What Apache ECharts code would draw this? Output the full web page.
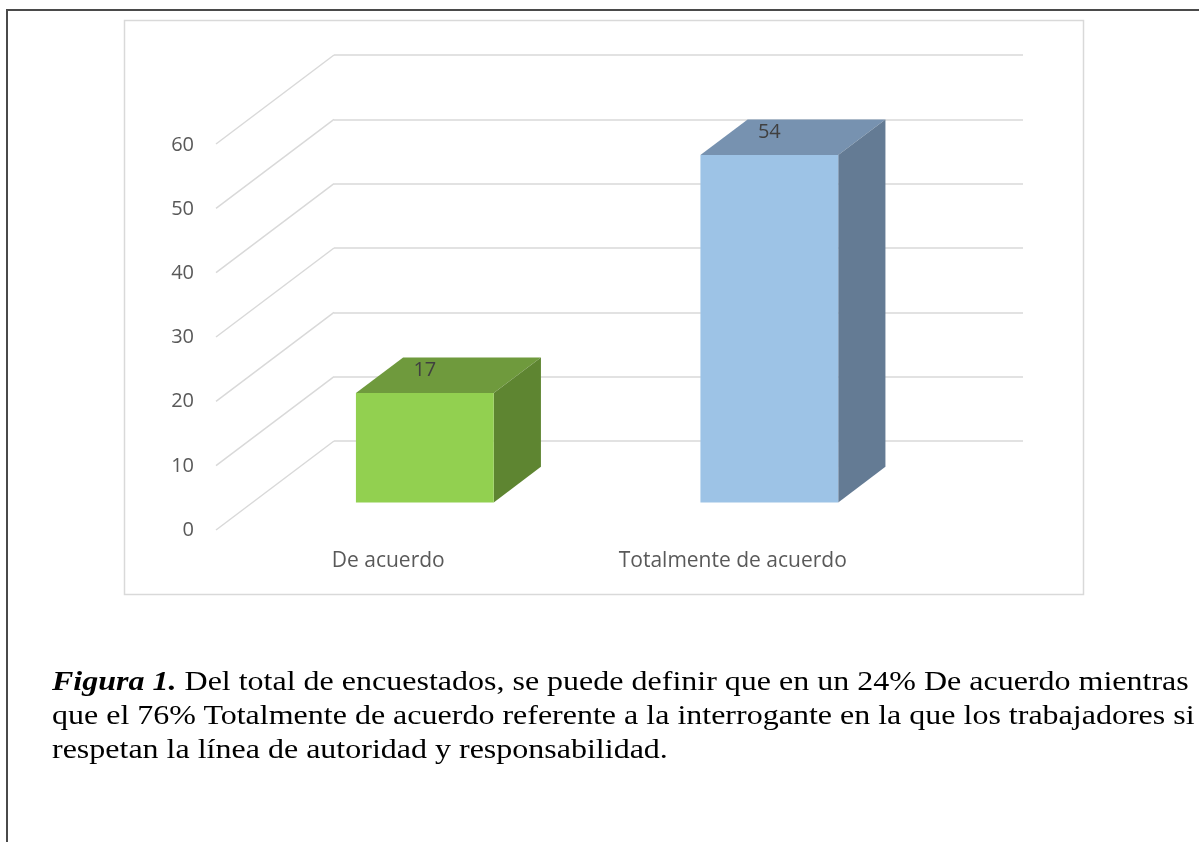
<!DOCTYPE html>
<html>
<head>
<meta charset="utf-8">
<script src="https://cdn.jsdelivr.net/npm/echarts@6/dist/echarts.min.js"></script>
<style>
  html, body { margin: 0; padding: 0; background: #fff; }
  #chart { position: absolute; left: 0; top: 0; width: 1199px; height: 842px; }
  .caption {
    position: absolute; left: 52px; top: 664px; width: 1000px;
    font-family: "Liberation Serif", "Times New Roman", serif;
    font-size: 28px; line-height: 34px; color: #000; white-space: nowrap;
    transform: scaleX(1.143); transform-origin: 0 0;
  }
  .caption b { font-style: italic; }
</style>
</head>
<body>
<div id="chart"></div>
<div class="caption">
  <b>Figura 1.</b> Del total de encuestados, se puede definir que en un 24% De acuerdo mientras<br>
  que el 76% Totalmente de acuerdo referente a la interrogante en la que los trabajadores si<br>
  respetan la línea de autoridad y responsabilidad.
</div>
<script>
const categories = ['De acuerdo', 'Totalmente de acuerdo']
const values = [17, 54]
const yTicks = [0, 10, 20, 30, 40, 50, 60]

// caras de cada barra: frente, tapa, lateral
const faceColors = [
  ['#92d050', '#6f9a3d', '#5e8531'],
  ['#9dc3e6', '#7792b0', '#647b94'],
]

// vector de profundidad (fondo -> frente del piso), en px
const DEPTH = [-118, 89]
const FRONT = 0.69   // plano frontal de la barra
const BACK = 0.29    // plano trasero de la barra

const chart = echarts.init(document.getElementById('chart'))

chart.setOption({
  animation: false,
  textStyle: { fontFamily: 'Open Sans' },
  grid: [
    // pared del fondo
    { left: 334, top: 55, width: 689, height: 386 },
    // borde frontal del piso (solo para las etiquetas)
    { left: 216, top: 145, width: 689, height: 385 },
  ],
  xAxis: [
    {
      gridIndex: 0, type: 'category', data: categories,
      axisLine: { show: false }, axisTick: { show: false }, axisLabel: { show: false },
    },
    {
      gridIndex: 1, type: 'category', data: categories,
      axisLine: { show: false }, axisTick: { show: false },
      axisLabel: { color: '#595959', fontSize: 21, margin: 21 },
    },
  ],
  yAxis: [
    {
      gridIndex: 0, type: 'value', min: 0, max: 60, interval: 10,
      axisLine: { show: false }, axisTick: { show: false }, axisLabel: { show: false },
      splitLine: { lineStyle: { color: '#d9d9d9', width: 1.5 } },
    },
    {
      gridIndex: 1, type: 'value', min: 0, max: 60, interval: 10,
      axisLine: { show: false }, axisTick: { show: false }, splitLine: { show: false },
      axisLabel: { color: '#595959', fontSize: 20, margin: 22, padding: [4, 0, 0, 0] },
    },
  ],
  series: [
    // líneas inclinadas de la pared lateral
    {
      type: 'custom',
      xAxisIndex: 0, yAxisIndex: 0,
      data: yTicks.map((t) => [0, t]),
      z: 1,
      silent: true,
      renderItem: (params, api) => {
        const x0 = params.coordSys.x
        const y = api.coord([0, api.value(1)])[1]
        return {
          type: 'line',
          shape: { x1: x0 + DEPTH[0], y1: y + DEPTH[1], x2: x0, y2: y },
          style: { stroke: '#d9d9d9', lineWidth: 1.5 },
        }
      },
    },
    // barras 3D
    {
      type: 'custom',
      xAxisIndex: 0, yAxisIndex: 0,
      data: values.map((v, i) => [i, v]),
      z: 5,
      renderItem: (params, api) => {
        const i = api.value(0)
        const top = api.coord([i, api.value(1)])
        const base = api.coord([i, 0])
        const band = api.size([1, 0])[0]
        const w = band * 0.4
        const fx = top[0] + DEPTH[0] * FRONT - w / 2
        const fyTop = top[1] + DEPTH[1] * FRONT
        const fyBot = base[1] + DEPTH[1] * FRONT
        const dx = -DEPTH[0] * (FRONT - BACK)
        const dy = -DEPTH[1] * (FRONT - BACK)
        const c = faceColors[params.dataIndex]
        return {
          type: 'group',
          children: [
            {
              type: 'polygon',
              shape: { points: [[fx, fyTop], [fx + w, fyTop], [fx + w + dx, fyTop + dy], [fx + dx, fyTop + dy]] },
              style: { fill: c[1] },
            },
            {
              type: 'polygon',
              shape: { points: [[fx + w, fyTop], [fx + w + dx, fyTop + dy], [fx + w + dx, fyBot + dy], [fx + w, fyBot]] },
              style: { fill: c[2] },
            },
            {
              type: 'rect',
              shape: { x: fx, y: fyTop, width: w, height: fyBot - fyTop },
              style: { fill: c[0] },
            },
            {
              type: 'text',
              x: fx + w / 2, y: fyTop - 23,
              style: {
                text: String(api.value(1)),
                fill: '#404040', fontSize: 20, fontFamily: 'Open Sans',
                align: 'center', verticalAlign: 'middle',
              },
            },
          ],
        }
      },
    },
  ],
  graphic: [
    // marco del gráfico
    {
      type: 'rect', silent: true,
      shape: { x: 124.5, y: 20.5, width: 959, height: 574 },
      style: { fill: 'none', stroke: '#d9d9d9', lineWidth: 1.5 },
    },
    // marco exterior
    {
      type: 'polyline', silent: true,
      shape: { points: [[7, 842], [7, 10], [1199, 10]] },
      style: { fill: 'none', stroke: '#4a4a4a', lineWidth: 2 },
    },
  ],
})
</script>
</body>
</html>
